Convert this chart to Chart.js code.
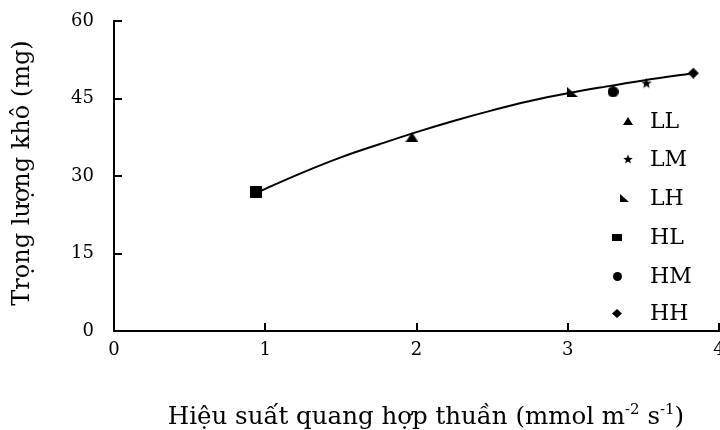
<!DOCTYPE html>
<html>
<head>
<meta charset="utf-8">
<script src="https://cdn.jsdelivr.net/npm/chart.js@4"></script>
<style>
  html, body { margin: 0; padding: 0; background: #fff; overflow: hidden; }
  #wrap { width: 728px; height: 430px; }
</style>
</head>
<body>
<div id="wrap"><canvas id="dryChart" width="728" height="430"></canvas></div>
<script>
// Treatments and their values
const treatments = ['LL', 'LM', 'LH', 'HL', 'HM', 'HH'];
const netPhoto = [1.97, 3.52, 3.03, 0.94, 3.30, 3.83];   // mmol m-2 s-1
const dryWeight = [37.5, 48.0, 46.3, 26.9, 46.3, 49.9];  // mg

// Trend line, traced point by point
const trendX = [0.96, 1.25, 1.5, 1.75, 2.0, 2.25, 2.5, 2.75, 3.0, 3.25, 3.5, 3.83];
const trendY = [27.0, 30.7, 33.6, 36.1, 38.5, 40.7, 42.7, 44.5, 46.0, 47.3, 48.5, 49.9];

const xTicks = [0, 1, 2, 3, 4];
const yTicks = [0, 15, 30, 45, 60];

const SERIF = '"DejaVu Serif", serif';

// Small canvases used as marker shapes
function makeIcon(shape, w, h) {
    const c = document.createElement('canvas');
    c.width = w;
    c.height = h;
    const g = c.getContext('2d');
    g.fillStyle = '#000';
    g.beginPath();
    if (shape === 'triangle') {
        g.moveTo(w / 2, 0);
        g.lineTo(w, h);
        g.lineTo(0, h);
    } else if (shape === 'star') {
        const cx = w / 2, cy = h / 2 + 0.5, ro = w / 2, ri = ro * 0.42;
        for (let i = 0; i < 10; i++) {
            const r = i % 2 ? ri : ro;
            const a = -Math.PI / 2 + i * Math.PI / 5;
            g.lineTo(cx + r * Math.cos(a), cy + r * Math.sin(a));
        }
    } else if (shape === 'corner') {
        g.moveTo(0, 0);
        g.lineTo(w, h);
        g.lineTo(0, h);
    } else if (shape === 'rect') {
        g.rect(0, 0, w, h);
    } else if (shape === 'circle') {
        g.ellipse(w / 2, h / 2, w / 2, h / 2, 0, 0, Math.PI * 2);
    } else if (shape === 'diamond') {
        g.moveTo(w / 2, 0);
        g.lineTo(w, h / 2);
        g.lineTo(w / 2, h);
        g.lineTo(0, h / 2);
    }
    g.closePath();
    g.fill();
    return c;
}

const shapes = ['triangle', 'star', 'corner', 'rect', 'circle', 'diamond'];
const plotSizes = [[13, 10], [11, 11], [11, 10], [12, 12], [11, 11], [11, 11]];
const legendSizes = [[10, 8], [10, 10], [9, 8], [10, 7], [9, 9], [10, 9]];

const plotIcons = shapes.map((s, i) => makeIcon(s, plotSizes[i][0], plotSizes[i][1]));
const legendIcons = shapes.map((s, i) => makeIcon(s, legendSizes[i][0], legendSizes[i][1]));

// Inward tick marks on both axes
const inwardTicks = {
    id: 'inwardTicks',
    afterDraw(chart) {
        const { ctx, chartArea, scales } = chart;
        ctx.save();
        ctx.strokeStyle = '#000';
        ctx.lineWidth = 2;
        ctx.beginPath();
        yTicks.forEach(v => {
            const y = Math.round(scales.y.getPixelForValue(v));
            ctx.moveTo(chartArea.left, y);
            ctx.lineTo(chartArea.left + 8, y);
        });
        xTicks.slice(1).forEach(v => {
            const x = Math.round(scales.x.getPixelForValue(v));
            ctx.moveTo(x, chartArea.bottom);
            ctx.lineTo(x, chartArea.bottom - 8);
        });
        ctx.stroke();
        ctx.restore();
    }
};

// Axis titles (x title has superscripts)
const axisTitles = {
    id: 'axisTitles',
    afterDraw(chart) {
        const { ctx } = chart;
        ctx.save();
        ctx.fillStyle = '#000';
        ctx.textBaseline = 'alphabetic';

        // y title
        ctx.font = '24px ' + SERIF;
        ctx.translate(29, 173);
        ctx.rotate(-Math.PI / 2);
        ctx.textAlign = 'center';
        ctx.fillText('Trọng lượng khô (mg)', 0, 0);
        ctx.setTransform(1, 0, 0, 1, 0, 0);

        // x title
        const parts = [
            ['Hiệu suất quang hợp thuần (mmol m', false],
            ['-2', true],
            [' s', false],
            ['-1', true],
            [')', false]
        ];
        const big = '24.5px ' + SERIF, small = '15px ' + SERIF;
        let total = 0;
        parts.forEach(p => { ctx.font = p[1] ? small : big; total += ctx.measureText(p[0]).width; });
        let x = 426 - total / 2;
        const base = 424;
        ctx.textAlign = 'left';
        parts.forEach(p => {
            ctx.font = p[1] ? small : big;
            ctx.fillText(p[0], x, p[1] ? base - 10 : base);
            x += ctx.measureText(p[0]).width;
        });
        ctx.restore();
    }
};

// Legend inside the plot, on the right
const sideLegend = {
    id: 'sideLegend',
    afterDraw(chart) {
        const { ctx } = chart;
        const rowY = [121, 159, 198, 237, 276, 313];
        const iconX = [628, 628, 624, 617, 617, 617];
        ctx.save();
        ctx.fillStyle = '#000';
        ctx.font = '22px ' + SERIF;
        ctx.textBaseline = 'middle';
        ctx.textAlign = 'left';
        treatments.forEach((name, i) => {
            const icon = legendIcons[i];
            ctx.drawImage(icon, Math.round(iconX[i] - icon.width / 2), Math.round(rowY[i] - icon.height / 2));
            ctx.fillText(name, 650, rowY[i] + 1);
        });
        ctx.restore();
    }
};

const markerSets = treatments.map((name, i) => ({
    label: name,
    data: [{ x: netPhoto[i], y: dryWeight[i] }],
    pointStyle: plotIcons[i],
    showLine: false
}));

const trendSet = {
    label: 'trend',
    data: trendX.map((x, i) => ({ x: x, y: trendY[i] })),
    showLine: true,
    borderColor: '#000',
    borderWidth: 2,
    pointRadius: 0,
    tension: 0.4
};

// invisible tick marks give the label gap without adding scale padding
const hiddenTicks = len => ({
    drawOnChartArea: false,
    drawTicks: true,
    tickLength: len,
    tickColor: 'rgba(0,0,0,0)'
});

new Chart(document.getElementById('dryChart'), {
    type: 'scatter',
    data: { datasets: markerSets.concat([trendSet]) },
    options: {
        responsive: false,
        animation: false,
        events: [],
        layout: { padding: { top: 21, right: 9, left: 0, bottom: 0 } },
        plugins: { legend: { display: false }, tooltip: { enabled: false } },
        scales: {
            x: {
                type: 'linear',
                min: 0,
                max: 4,
                afterFit: s => { s.height = 99; },
                afterBuildTicks: s => { s.ticks = xTicks.map(v => ({ value: v })); },
                grid: hiddenTicks(9),
                border: { display: true, color: '#000', width: 2 },
                ticks: { color: '#000', font: { family: SERIF, size: 18 }, padding: 0, maxRotation: 0 }
            },
            y: {
                type: 'linear',
                min: 0,
                max: 60,
                afterFit: s => { s.width = 114; },
                afterBuildTicks: s => { s.ticks = yTicks.map(v => ({ value: v })); },
                grid: hiddenTicks(20),
                border: { display: true, color: '#000', width: 2 },
                ticks: { color: '#000', font: { family: SERIF, size: 18 }, padding: 0 }
            }
        }
    },
    plugins: [inwardTicks, axisTitles, sideLegend]
});
</script>
</body>
</html>
